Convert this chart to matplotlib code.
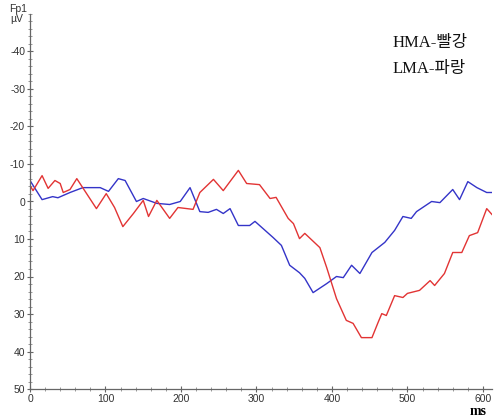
import matplotlib
matplotlib.use("Agg")
import matplotlib.pyplot as plt
from matplotlib.ticker import MultipleLocator, FixedLocator

plt.rcParams["axes.unicode_minus"] = False
plt.rcParams["font.family"] = ["Liberation Sans", "DejaVu Sans"]

# ERP waveform at Fp1 (negative up), two groups
blue_ms = [0, 16, 30, 37, 53, 70, 93, 104, 117, 126, 141, 150, 168, 185, 199, 212,
           225, 236, 247, 256, 265, 276, 291, 298, 322, 333, 344, 357, 364, 375, 393,
           406, 415, 426, 437, 453, 470, 483, 494, 505, 512, 532, 543, 560, 569, 580,
           592, 605, 613]
blue_uv = [-5.6, -0.5, -1.3, -1.0, -2.4, -3.7, -3.7, -2.7, -6.1, -5.6, 0.0, -0.8, 0.5,
           0.8, 0.0, -3.7, 2.7, 2.9, 2.1, 3.2, 1.9, 6.4, 6.4, 5.3, 9.6, 11.7, 17.0, 19.0,
           20.5, 24.3, 21.9, 20.0, 20.3, 17.0, 19.2, 13.6, 10.9, 7.7, 4.0, 4.5, 2.7, 0.0,
           0.3, -3.2, -0.5, -5.3, -3.7, -2.4, -2.4]

red_ms = [0, 4, 16, 24, 33, 40, 44, 53, 62, 75, 88, 101, 112, 123, 137, 150, 157, 168,
          185, 196, 216, 225, 243, 256, 276, 287, 304, 318, 326, 342, 349, 357, 364,
          384, 393, 406, 419, 428, 439, 453, 461, 466, 472, 483, 494, 500, 516, 530,
          536, 549, 560, 572, 582, 593, 605, 613]
red_uv = [-4.3, -2.9, -6.9, -3.5, -5.6, -4.8, -2.4, -3.2, -6.1, -2.1, 1.9, -2.1, 1.6,
          6.7, 3.2, -0.3, 4.0, -0.3, 4.5, 1.6, 2.1, -2.4, -5.9, -2.9, -8.3, -4.8, -4.5,
          -0.8, -1.1, 4.5, 5.9, 9.9, 8.5, 12.3, 17.6, 25.9, 31.7, 32.5, 36.3, 36.3, 32.3,
          29.9, 30.4, 25.1, 25.6, 24.5, 23.7, 21.1, 22.4, 19.2, 13.6, 13.6, 9.1, 8.3,
          1.9, 3.7]

y_ticks = [-40, -30, -20, -10, 0, 10, 20, 30, 40, 50]
x_ticks = [0, 100, 200, 300, 400, 500, 600]
legend_lines = ["HMA-빨강", "LMA-파랑"]

fig = plt.figure(figsize=(4.94, 4.19), dpi=100)
ax = fig.add_axes([30 / 494, 30 / 419, 462 / 494, 375 / 419])

ax.plot(blue_ms, blue_uv, color="#3434c8", lw=1.0)
ax.plot(red_ms, red_uv, color="#e23434", lw=1.0)

ax.set_xlim(0, 612)
ax.set_ylim(50, -50)

for s in ("top", "right"):
    ax.spines[s].set_visible(False)
for s in ("left", "bottom"):
    ax.spines[s].set_color("#666666")
    ax.spines[s].set_linewidth(0.9)

ax.yaxis.set_major_locator(FixedLocator(y_ticks))
ax.yaxis.set_minor_locator(MultipleLocator(2))
ax.xaxis.set_major_locator(FixedLocator(x_ticks))
ax.xaxis.set_minor_locator(MultipleLocator(20))
ax.tick_params(which="major", direction="inout", length=5, width=0.8, color="#666666",
               labelsize=7.5, labelcolor="#333333", pad=1)
ax.tick_params(which="minor", direction="inout", length=3, width=0.6, color="#888888")

fig.text(9 / 494, 1 - 9 / 419, "Fp1", fontsize=7.5, color="#333333", va="center")
fig.text(10 / 494, 1 - 19 / 419, "µV", fontsize=7.5, color="#333333", va="center")
fig.text(470 / 494, 1 - 411 / 419, "ms", fontsize=10, fontweight="bold",
         family=["Liberation Serif"], va="center")

for i, t in enumerate(legend_lines):
    fig.text(393 / 494, 1 - (43 + i * 26) / 419, t, fontsize=12, color="#111111",
             family=["Liberation Serif", "Noto Sans CJK KR"], va="center")

fig.savefig("out.png", dpi=100)
